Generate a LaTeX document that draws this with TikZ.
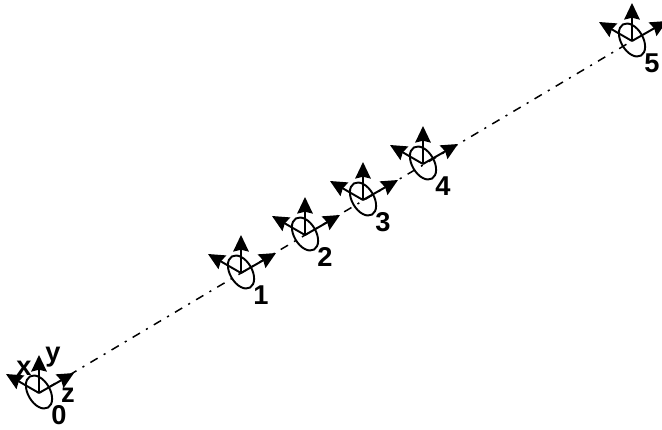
\documentclass[tikz,border=0pt]{standalone}
\usepackage{fontspec}
\setmainfont{Liberation Sans}
\usetikzlibrary{arrows.meta, calc}
\tikzset{
  axis/.style={-{Stealth[length=3.3mm, width=3.1mm, inset=0.35mm]}, draw=black, line width=1.1pt},
  ring/.style={draw=black, line width=1.1pt},
  track/.style={draw=black, line width=0.85pt, dash pattern=on 4.8pt off 4pt on 1.2pt off 4pt, dash phase=8pt},
  lbl/.style={font=\bfseries\fontsize{15.5}{17}\selectfont, inner sep=0pt},
}
\begin{document}
\begin{tikzpicture}[x=0.02cm, y=-0.02cm]
  \useasboundingbox (0,0) rectangle (662,429);
  \coordinate (a0) at (39,393);
  \coordinate (a5) at (632,41);
  % path through all the frames
  \draw[track] (a0) -- (a5);
  % one frame per pose
  \foreach \n/\px/\py in {0/39/393, 1/241/273, 2/305/235, 3/363/200, 4/423/164, 5/632/41} {
    \coordinate (a\n) at (\px,\py);
    \coordinate (c\n) at ($(a\n)+(0,-1)$);
    \coordinate (x\n) at ($(a\n)+(-33,-19)$);
    \coordinate (y\n) at ($(a\n)+(0,-38)$);
    \coordinate (z\n) at ($(a\n)+(35,-20)$);
    \draw[ring, rotate around={-60:(c\n)}] (c\n) ellipse (18 and 11);
    \draw[axis] (a\n) -- (x\n);
    \draw[axis] (a\n) -- (y\n);
    \draw[axis] (a\n) -- (z\n);
    \node[lbl] (n\n) at ($(a\n)+(20,22)$) {\n};
  }
  \node[lbl] (xlab) at (24,368) {x};
  \node[lbl] (ylab) at (53,357) {y};
  \node[lbl] (zlab) at (68,395) {z};
\end{tikzpicture}
\end{document}
